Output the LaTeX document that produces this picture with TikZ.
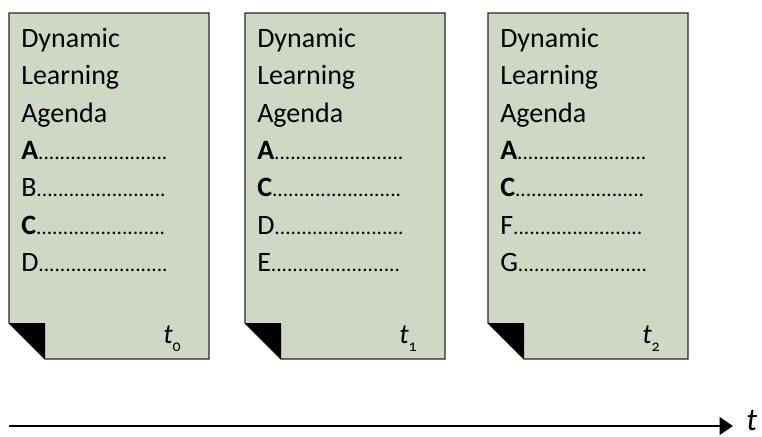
\documentclass[tikz,border=0pt]{standalone}
\usepackage{fontspec}
\setmainfont{Carlito}[Numbers=OldStyle]
\usetikzlibrary{arrows.meta,positioning}
\definecolor{paper}{RGB}{207,216,197}
\tikzset{
	sheet/.style={draw=black!85,fill=paper,line width=0.9pt},
	fold/.style={fill=black},
	agenda/.style={anchor=north west,align=left,inner sep=0pt,font=\fontsize{21}{28}\selectfont},
	stamp/.style={anchor=base west,inner sep=0pt,font=\fontsize{21}{21}\selectfont},
	timeline/.style={line width=1.9pt,-{Triangle[length=10pt,width=13pt]}}
}
\newcommand{\dotrow}{{\fontsize{16}{16}\selectfont ........................}}
\newcommand{\tsub}[1]{\textit{t}\raisebox{-6pt}{\fontsize{12}{12}\selectfont #1}}

\begin{document}
\begin{tikzpicture}[x=0.75pt,y=-0.75pt]
	\useasboundingbox (0,0) rectangle (762,436);
	\foreach \px/\pn/\ib/\ic/\id in {9/0/B/{\textbf{C}}/D, 245/1/{\textbf{C}}/D/E, 488/2/{\textbf{C}}/F/G}{
		\draw[sheet] (\px,13) -- ++(200,0) -- ++(0,346) -- ++(-164,0) -- ++(-36,-36) -- cycle;
		\fill[fold] (\px,323) -- ++(36,0) -- ++(0,36) -- cycle;
		\node[agenda] (agenda\pn) at (\px+12,28) {Dynamic\\Learning\\Agenda\\\textbf{A}\dotrow\\\ib\dotrow\\\ic\dotrow\\\id\dotrow};
		\node[stamp] (stamp\pn) at (\px+154,343) {\tsub{\pn}};
	}
	% time axis
	\coordinate (past) at (9,426);
	\coordinate (now) at (733,426);
	\draw[timeline] (past) -- (now);
	\node[anchor=base west,inner sep=0pt,font=\fontsize{24}{24}\selectfont\itshape] (tlabel) at (746,430) {t};
\end{tikzpicture}
\end{document}
